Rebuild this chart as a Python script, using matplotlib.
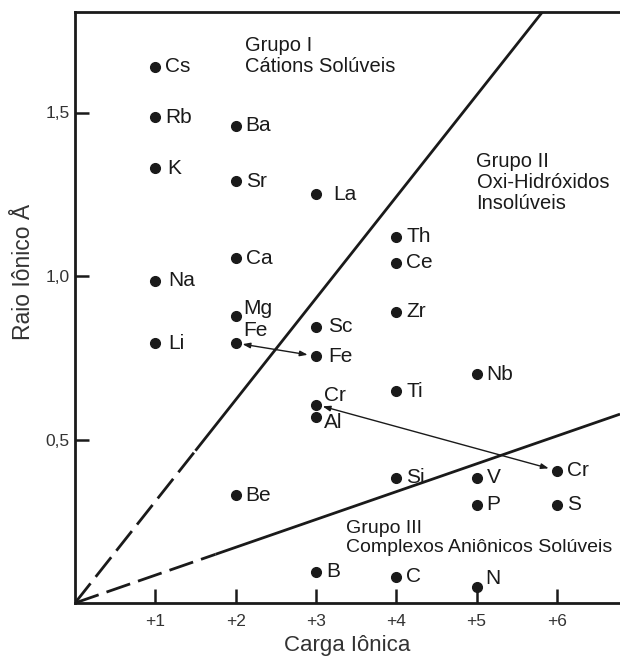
"""Raio iônico vs carga iônica - grupos de solubilidade"""

import matplotlib
matplotlib.use("Agg")
import matplotlib.pyplot as plt

plt.rcParams["font.family"] = ["Liberation Sans", "DejaVu Sans"]

# elementos: (carga, raio em Å)
elements = ["Cs", "Rb", "K", "Na", "Li",
            "Ba", "Sr", "Ca", "Mg", "Fe", "Be",
            "La", "Sc", "Fe3", "Cr3", "Al", "B",
            "Th", "Ce", "Zr", "Ti", "Si", "C",
            "Nb", "V", "P", "N",
            "Cr6", "S"]
charge = [1, 1, 1, 1, 1,
          2, 2, 2, 2, 2, 2,
          3, 3, 3, 3, 3, 3,
          4, 4, 4, 4, 4, 4,
          5, 5, 5, 5,
          6, 6]
radius = [1.64, 1.485, 1.33, 0.985, 0.795,
          1.46, 1.29, 1.055, 0.877, 0.795, 0.33,
          1.25, 0.845, 0.755, 0.607, 0.57, 0.095,
          1.12, 1.04, 0.89, 0.647, 0.383, 0.08,
          0.70, 0.383, 0.30, 0.05,
          0.405, 0.30]

# texto mostrado junto de cada ponto
label_text = {"Fe3": "Fe", "Cr3": "Cr", "Cr6": "Cr"}

# limites entre grupos (retas pela origem) e fim do trecho tracejado
slope_upper = 0.3105
slope_lower = 0.0851
dash_end_upper = 1.5
dash_end_lower = 1.75

x_ticks = [1, 2, 3, 4, 5, 6]
x_tick_labels = ["+1", "+2", "+3", "+4", "+5", "+6"]
y_ticks = [0.5, 1.0, 1.5]
y_tick_labels = ["0,5", "1,0", "1,5"]

# deslocamento dos rótulos (pixels) em relação ao ponto
default_offset = (10, 0)
offsets = {"K": (12, 0), "Na": (13, 0), "Li": (13, 0),
           "Mg": (8, 8), "Fe": (8, 13), "La": (17, 0),
           "Sc": (12, 0), "Fe3": (12, 0), "Cr3": (8, 9), "Al": (8, -6),
           "N": (9, 8)}

INK = "#1a1a1a"

fig = plt.figure(figsize=(6.2, 6.57), dpi=100)
ax = fig.add_axes([75 / 620, 1 - 603 / 657, 545 / 620, 591 / 657])

xmax = 545 / 80.3
ax.set_xlim(0, xmax)
ax.set_ylim(0, 591 / 327)

# linhas de separação
for slope, dash_end in [(slope_upper, dash_end_upper), (slope_lower, dash_end_lower)]:
    ax.plot([0, dash_end], [0, slope * dash_end], color=INK, lw=2,
            linestyle=(0, (9, 3)), solid_capstyle="butt", dash_capstyle="butt")
    ax.plot([dash_end, xmax], [slope * dash_end, slope * xmax], color=INK, lw=2,
            solid_capstyle="butt")

# pontos
ax.plot(charge, radius, "o", color=INK, markersize=7, zorder=3, clip_on=False)

for name, x, y in zip(elements, charge, radius):
    dx, dy = offsets.get(name, default_offset)
    ax.annotate(label_text.get(name, name), (x, y), xytext=(dx, dy),
                textcoords="offset pixels", ha="left", va="center",
                fontsize=15, color=INK)

# setas Fe2+ -> Fe3+ e Cr3+ -> Cr6+
idx = {n: i for i, n in enumerate(elements)}
for a, b in [("Fe", "Fe3"), ("Cr3", "Cr6")]:
    ax.annotate("", xy=(charge[idx[b]], radius[idx[b]]),
                xytext=(charge[idx[a]], radius[idx[a]]),
                arrowprops=dict(arrowstyle="<|-|>,head_length=0.45,head_width=0.16",
                                color=INK, lw=1, shrinkA=5, shrinkB=6))

# nomes dos grupos
ax.text(2.12, 1.735, "Grupo I\nCátions Solúveis", fontsize=14.5, color=INK,
        va="top", ha="left", linespacing=1.15)
ax.text(5.0, 1.38, "Grupo II\nOxi-Hidróxidos\nInsolúveis", fontsize=14.5,
        color=INK, va="top", ha="left", linespacing=1.15)
ax.text(3.38, 0.255, "Grupo III\nComplexos Aniônicos Solúveis", fontsize=14,
        color=INK, va="top", ha="left", linespacing=1.15)

# eixos
ax.spines["right"].set_visible(False)
for side in ["left", "bottom", "top"]:
    ax.spines[side].set_linewidth(2)
    ax.spines[side].set_color(INK)

ax.set_xticks(x_ticks, x_tick_labels)
ax.set_yticks(y_ticks, y_tick_labels)
ax.tick_params(direction="in", length=10, width=1.8, color=INK,
               labelsize=12.5, labelcolor="#333333")
ax.tick_params(axis="x", pad=8)
ax.tick_params(axis="y", pad=4)

ax.set_xlabel("Carga Iônica", fontsize=16, color="#333333", labelpad=4)
ax.set_ylabel("Raio Iônico Å", fontsize=16.5, color="#333333")
ax.yaxis.set_label_coords(-0.073, 0.56)

fig.savefig("out.png", dpi=100)
